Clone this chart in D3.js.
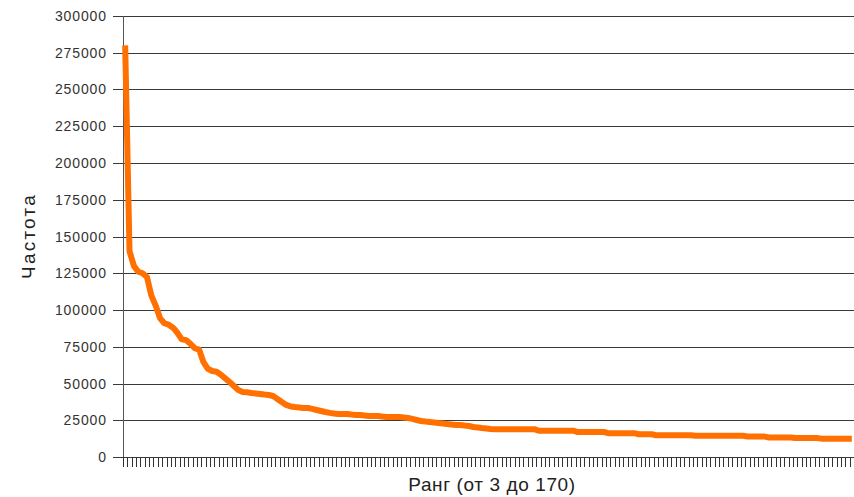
<!DOCTYPE html>
<html>
<head>
<meta charset="utf-8">
<script src="https://cdn.jsdelivr.net/npm/d3@7"></script>
<style>
  html, body { margin: 0; padding: 0; background: #fff; }
  svg { display: block; }
</style>
</head>
<body>
<div id="chart"></div>
<script>
// ---- Data ----
const ranks = d3.range(3, 171); // categories: rank 3 .. 170
const frequencies = [
  280000, 140000, 130000, 126000, 125000, 122500, 110000, 103000, 94500, 91000,
  90000, 88000, 84500, 80000, 79500, 77000, 74000, 73000, 64500, 60000,
  58500, 58000, 56000, 53500, 51000, 48300, 45500, 44200, 44000, 43500,
  43200, 42900, 42500, 42200, 41500, 39500, 37400, 35400, 34400, 34000,
  33700, 33300, 33300, 32700, 32000, 31300, 30600, 30000, 29600, 29300,
  29300, 29300, 28900, 28600, 28600, 28200, 27900, 27900, 27900, 27500,
  27200, 27200, 27200, 27200, 26900, 26500, 25900, 25200, 24500, 24100,
  23800, 23500, 23100, 22800, 22400, 22100, 21800, 21800, 21400, 21100,
  20400, 20100, 19700, 19400, 19000, 18900, 18900, 18900, 18900, 18900,
  18900, 18900, 18900, 18900, 18900, 17900, 17900, 17900, 17900, 17900,
  17900, 17900, 17900, 17900, 17000, 17000, 17000, 17000, 17000, 17000,
  17000, 16200, 16200, 16200, 16200, 16200, 16200, 16200, 15500, 15500,
  15500, 15500, 14800, 14800, 14800, 14800, 14800, 14800, 14800, 14800,
  14800, 14400, 14400, 14400, 14400, 14400, 14400, 14400, 14400, 14400,
  14400, 14400, 14400, 13900, 13900, 13900, 13900, 13900, 13300, 13300,
  13300, 13300, 13300, 13300, 12900, 12900, 12900, 12900, 12900, 12900,
  12500, 12500, 12500, 12500, 12500, 12500, 12500, 12500
];
const yTicks = [0, 25000, 50000, 75000, 100000, 125000, 150000, 175000, 200000, 225000, 250000, 275000, 300000];
const yTitle = "Частота";
const xTitle = "Ранг (от 3 до 170)";

// ---- Layout ----
const W = 854, H = 497;
const mLeft = 123, mRight = 854, mTop = 16, mBottom = 457;

const svg = d3.select("#chart").append("svg")
  .attr("width", W).attr("height", H);

const x = d3.scaleBand().domain(ranks).range([mLeft, mRight]).padding(0);
const y = d3.scaleLinear().domain([0, 300000]).range([mBottom, mTop]);

// gridlines
svg.append("g").selectAll("line").data(yTicks).join("line")
  .attr("x1", mLeft - 10).attr("x2", mRight)
  .attr("y1", d => Math.round(y(d)) + 0.5).attr("y2", d => Math.round(y(d)) + 0.5)
  .attr("stroke", "#3a3a3a").attr("stroke-width", 1)
  .attr("shape-rendering", "crispEdges");

// y axis labels
svg.append("g").selectAll("text").data(yTicks).join("text")
  .attr("x", 107).attr("y", d => Math.round(y(d)) + 5)
  .attr("text-anchor", "end")
  .attr("font-family", "Liberation Sans, Arial, sans-serif")
  .attr("font-size", 14).attr("letter-spacing", 0.9)
  .attr("fill", "#333")
  .text(d => d);

// y axis line
svg.append("line")
  .attr("x1", mLeft + 0.5).attr("x2", mLeft + 0.5)
  .attr("y1", mTop).attr("y2", mBottom + 10)
  .attr("stroke", "#555").attr("stroke-width", 1)
  .attr("shape-rendering", "crispEdges");

// x axis ticks at category boundaries
const boundaries = ranks.map(r => x(r)).concat([x(ranks[ranks.length - 1]) + x.bandwidth()]);
svg.append("g").selectAll("line").data(boundaries).join("line")
  .attr("x1", d => Math.round(d) + 0.5).attr("x2", d => Math.round(d) + 0.5)
  .attr("y1", mBottom).attr("y2", mBottom + 10)
  .attr("stroke", "#333").attr("stroke-width", 1)
  .attr("shape-rendering", "crispEdges");

// line
const line = d3.line()
  .x((d, i) => x(ranks[i]) + x.bandwidth() / 2)
  .y(d => y(d));
svg.append("path")
  .datum(frequencies)
  .attr("d", line)
  .attr("fill", "none")
  .attr("stroke", "#ff7000")
  .attr("stroke-width", 6)
  .attr("stroke-linejoin", "round");

// titles
svg.append("text")
  .attr("transform", `translate(35, 236) rotate(-90)`)
  .attr("text-anchor", "middle")
  .attr("font-family", "Liberation Sans, Arial, sans-serif")
  .attr("font-size", 19).attr("letter-spacing", 2.2)
  .attr("fill", "#222")
  .text(yTitle);

svg.append("text")
  .attr("x", 492).attr("y", 491)
  .attr("text-anchor", "middle")
  .attr("font-family", "Liberation Sans, Arial, sans-serif")
  .attr("font-size", 19).attr("letter-spacing", 0.6)
  .attr("fill", "#222")
  .text(xTitle);
</script>
</body>
</html>
